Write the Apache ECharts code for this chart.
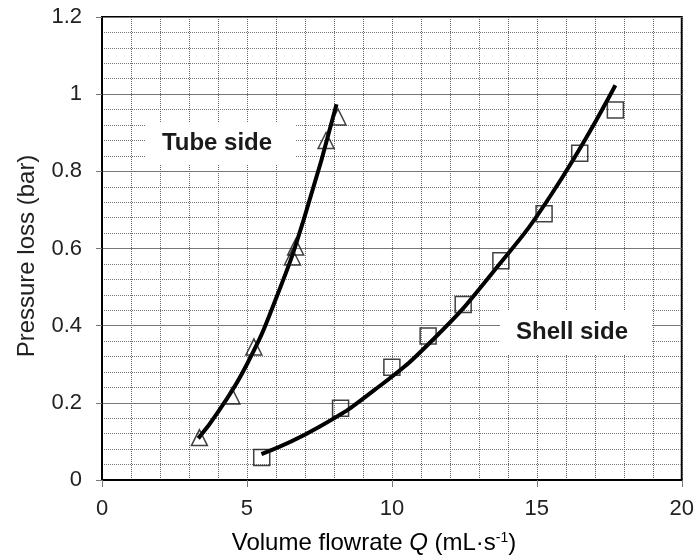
<!DOCTYPE html>
<html>
<head>
<meta charset="utf-8">
<script src="https://cdn.jsdelivr.net/npm/echarts@6/dist/echarts.min.js"></script>
<style>
  html, body { margin: 0; padding: 0; background: #fff; }
  #chart { width: 697px; height: 560px; }
</style>
</head>
<body>
<div id="chart"></div>
<script>
// measured points (triangles / squares)
const tubeQ = [3.36, 4.48, 5.24, 6.57, 6.68, 7.73, 8.14];
const tubeDP = [0.110, 0.218, 0.345, 0.578, 0.604, 0.880, 0.941];
const shellQ = [5.51, 8.23, 10.0, 11.25, 12.46, 13.76, 15.25, 16.48, 17.71];
const shellDP = [0.058, 0.186, 0.292, 0.373, 0.455, 0.568, 0.690, 0.847, 0.959];

// fitted curves
const tubeFitQ = [3.32, 4.0, 5.0, 6.0, 7.0, 8.09];
const tubeFitDP = [0.108, 0.176, 0.30, 0.47, 0.685, 0.974];
const shellFitQ = [5.5, 7.5, 9.5, 11.5, 13.5, 15.5, 17.71];
const shellFitDP = [0.067, 0.138, 0.239, 0.37, 0.54, 0.74, 1.023];

const xTicks = [0, 5, 10, 15, 20];
const yTicks = [0, 0.2, 0.4, 0.6, 0.8, 1, 1.2];

const FONT = '"Liberation Sans", Arial, sans-serif';

function pairs(xs, ys) {
    return xs.map((x, i) => [x, ys[i]]);
}

const chart = echarts.init(document.getElementById('chart'), null, { renderer: 'canvas' });

const option = {
    backgroundColor: '#fff',
    animation: false,
    grid: {
        left: 102,
        right: 15,
        top: 17,
        bottom: 80,
        show: true,
        borderColor: '#000',
        borderWidth: 2,
        backgroundColor: '#fff',
    },
    xAxis: {
        type: 'value',
        min: xTicks[0],
        max: xTicks[xTicks.length - 1],
        interval: 5,
        axisLine: { show: true, lineStyle: { color: '#000', width: 2 } },
        axisTick: { show: true, inside: false, length: 7, lineStyle: { color: '#777', width: 1 } },
        axisLabel: { fontSize: 22, color: '#222', fontFamily: FONT, margin: 18 },
        splitLine: { show: true, lineStyle: { color: '#666', width: 1, type: 'dotted' } },
        minorTick: { show: false, splitNumber: 5 },
        minorSplitLine: { show: true, lineStyle: { color: '#666', width: 1, type: 'dotted' } },
    },
    yAxis: {
        type: 'value',
        min: yTicks[0],
        max: yTicks[yTicks.length - 1],
        interval: 0.2,
        axisLine: { show: true, lineStyle: { color: '#000', width: 2 } },
        axisTick: { show: true, inside: false, length: 6, lineStyle: { color: '#777', width: 1 } },
        axisLabel: {
            fontSize: 22, color: '#222', fontFamily: FONT, margin: 20,
            formatter: (v) => String(Math.round(v * 10) / 10),
        },
        splitLine: { show: true, lineStyle: { color: '#777', width: 1 } },
        minorTick: { show: false, splitNumber: 5 },
        minorSplitLine: { show: true, lineStyle: { color: '#777', width: 1, type: 'dotted' } },
    },
    graphic: [
        // label boxes hide the grid behind them
        { type: 'rect', left: 145, top: 123, shape: { width: 151, height: 42 }, style: { fill: '#fff' }, z: 5 },
        {
            type: 'text', x: 217, y: 143, z: 6,
            style: { text: 'Tube side', fontSize: 24, fontWeight: 'bold', fontFamily: FONT, fill: '#1a1a1a', align: 'center', verticalAlign: 'middle' },
        },
        { type: 'rect', left: 500, top: 310, shape: { width: 152, height: 45 }, style: { fill: '#fff' }, z: 5 },
        {
            type: 'text', x: 572, y: 332, z: 6,
            style: { text: 'Shell side', fontSize: 24, fontWeight: 'bold', fontFamily: FONT, fill: '#1a1a1a', align: 'center', verticalAlign: 'middle' },
        },
        // axis titles
        {
            type: 'text', x: 27, y: 256, rotation: Math.PI / 2,
            style: { text: 'Pressure loss (bar)', fontSize: 24, fontFamily: FONT, fill: '#222', align: 'center', verticalAlign: 'middle' },
        },
        {
            type: 'text', x: 374, y: 543,
            style: {
                text: '{n|Volume flowrate }{i|Q}{n| (mL·s}{s|-1}{n|)}',
                align: 'center', verticalAlign: 'middle',
                rich: {
                    n: { fontSize: 24, fontFamily: FONT, color: '#222' },
                    i: { fontSize: 24, fontFamily: FONT, fontStyle: 'italic', color: '#222' },
                    s: { fontSize: 14, fontFamily: FONT, color: '#222', verticalAlign: 'top', padding: [0, 0, 10, 0] },
                },
            },
        },
    ],
    series: [
        {
            name: 'Tube side fit',
            type: 'line',
            data: pairs(tubeFitQ, tubeFitDP),
            smooth: true,
            showSymbol: false,
            lineStyle: { color: '#000', width: 4 },
            z: 3,
        },
        {
            name: 'Shell side fit',
            type: 'line',
            data: pairs(shellFitQ, shellFitDP),
            smooth: true,
            showSymbol: false,
            lineStyle: { color: '#000', width: 4 },
            z: 3,
        },
        {
            name: 'Tube side',
            type: 'scatter',
            data: pairs(tubeQ, tubeDP),
            symbol: 'triangle',
            symbolSize: 16,
            itemStyle: { color: 'transparent', borderColor: '#111', borderWidth: 1.5 },
            z: 4,
        },
        {
            name: 'Shell side',
            type: 'scatter',
            data: pairs(shellQ, shellDP),
            symbol: 'rect',
            symbolSize: 16,
            itemStyle: { color: 'transparent', borderColor: '#111', borderWidth: 1.5 },
            z: 4,
        },
    ],
};

chart.setOption(option);
</script>
</body>
</html>
